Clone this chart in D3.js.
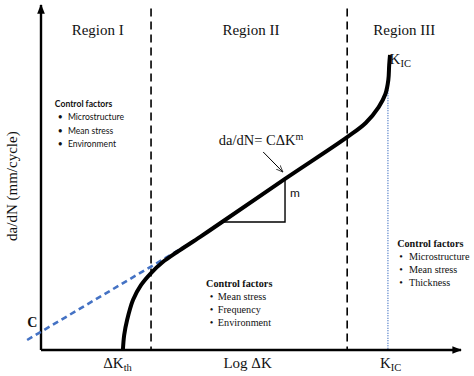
<!DOCTYPE html>
<html>
<head>
<meta charset="utf-8">
<script src="https://d3js.org/d3.v7.min.js"></script>
<style>
  body { margin: 0; background: #fff; }
  .serif { font-family: "Liberation Serif", "Times New Roman", serif; fill: #111; }
  .sans { font-family: Lato, "Open Sans", sans-serif; fill: #111; }
</style>
</head>
<body>
<svg id="chart" width="474" height="376"></svg>
<script>
// Crack growth curve, in abstract "log" units (0-100 on both axes)
const curveX = [19.5, 19.8, 20.5, 21.9, 23.8, 26.2, 29.0, 32.4, 37.9, 43.1, 58.1, 72.9, 77.3, 80.4, 82.0, 82.7, 82.9, 83.1];
const curveY = [0, 4.3, 8.7, 14.5, 18.8, 22.3, 25.5, 28.4, 32.8, 37.1, 49.6, 61.7, 65.8, 70.4, 74.2, 78.3, 82.6, 85.5];

// Paris-law tangent extended back to the y axis (C intercept)
const tangentX = [-3.3, 34.8];
const tangentY = [2.9, 30.4];

// slope triangle
const triX = [43.1, 58.1, 58.1];
const triY = [37.1, 37.1, 49.6];

const regionBounds = [26.2, 72.9];
const kic = 82.6;
const kicTop = 76;
const regionNames = ["Region I", "Region II", "Region III"];
const regionCenters = [13.5, 50, 86.5];

const factorTitles = ["Control factors", "Control factors", "Control factors"];
const factorLists = [
  ["Microstructure", "Mean stress", "Environment"],
  ["Mean stress", "Frequency", "Environment"],
  ["Microstructure", "Mean stress", "Thickness"]
];

const svg = d3.select("#chart");
const margin = { top: 5, right: 13, bottom: 26, left: 41 };
const width = 474, height = 376;

const x = d3.scaleLinear().domain([0, 100]).range([margin.left, width - margin.right]);
const y = d3.scaleLinear().domain([0, 100]).range([height - margin.bottom, margin.top]);

const defs = svg.append("defs");
defs.append("marker")
  .attr("id", "axisArrow")
  .attr("viewBox", "0 0 10 10")
  .attr("refX", 9).attr("refY", 5)
  .attr("markerWidth", 4).attr("markerHeight", 4)
  .attr("orient", "auto")
  .append("path").attr("d", "M0,1 L10,5 L0,9 Z").attr("fill", "#000");
defs.append("marker")
  .attr("id", "thinArrow")
  .attr("viewBox", "0 0 10 10")
  .attr("refX", 9).attr("refY", 5)
  .attr("markerWidth", 7).attr("markerHeight", 7)
  .attr("orient", "auto")
  .append("path").attr("d", "M0,1 L10,5 L0,9").attr("fill", "none").attr("stroke", "#000").attr("stroke-width", 1);

// region dividers
svg.selectAll("line.divider").data(regionBounds)
  .join("line")
  .attr("class", "divider")
  .attr("x1", d => x(d)).attr("x2", d => x(d))
  .attr("y1", y(99)).attr("y2", y(0))
  .attr("stroke", "#000")
  .attr("stroke-width", 1.6)
  .attr("stroke-dasharray", "8,5");

// dotted K_IC line
svg.append("line")
  .attr("x1", x(kic)).attr("x2", x(kic))
  .attr("y1", y(kicTop)).attr("y2", y(0))
  .attr("stroke", "#3a6cc0")
  .attr("stroke-width", 1.3)
  .attr("stroke-dasharray", "1,1.5");

// axes
svg.append("line")
  .attr("x1", x(0)).attr("y1", y(0))
  .attr("x2", x(0)).attr("y2", y(100))
  .attr("stroke", "#000").attr("stroke-width", 2.4)
  .attr("marker-end", "url(#axisArrow)");
svg.append("line")
  .attr("x1", x(0)).attr("y1", y(0))
  .attr("x2", x(100)).attr("y2", y(0))
  .attr("stroke", "#000").attr("stroke-width", 2.4)
  .attr("marker-end", "url(#axisArrow)");

// tangent line
svg.append("line")
  .attr("x1", x(tangentX[0])).attr("y1", y(tangentY[0]))
  .attr("x2", x(tangentX[1])).attr("y2", y(tangentY[1]))
  .attr("stroke", "#4472c4").attr("stroke-width", 2.6)
  .attr("stroke-dasharray", "6,4");

// slope triangle
svg.append("path")
  .attr("d", d3.line().x(d => x(d[0])).y(d => y(d[1]))(d3.zip(triX, triY)))
  .attr("fill", "none").attr("stroke", "#000").attr("stroke-width", 1.4);

// curve
const curvePts = d3.zip(curveX, curveY);
svg.append("path")
  .attr("d", d3.line().x(d => x(d[0])).y(d => y(d[1])).curve(d3.curveCatmullRom)(curvePts))
  .attr("fill", "none").attr("stroke", "#000").attr("stroke-width", 4)
  .attr("stroke-linecap", "butt");

// formula annotation arrow
svg.append("line")
  .attr("x1", x(52.9)).attr("y1", y(57.4))
  .attr("x2", x(57.5)).attr("y2", y(51.7))
  .attr("stroke", "#000").attr("stroke-width", 1)
  .attr("marker-end", "url(#thinArrow)");

const formula = svg.append("text").attr("class", "serif")
  .attr("x", x(52.4)).attr("y", y(59.5)).attr("font-size", 14.5)
  .attr("text-anchor", "middle");
formula.append("tspan").text("da/dN= C\u0394K");
formula.append("tspan").attr("dy", -5).attr("font-size", 10).text("m");

svg.append("text").attr("class", "sans")
  .attr("x", x(59.3)).attr("y", y(44.3)).attr("font-size", 12).text("m");

// region titles
svg.selectAll("text.region").data(regionNames)
  .join("text")
  .attr("class", "region serif")
  .attr("x", (d, i) => x(regionCenters[i]))
  .attr("y", y(91.2))
  .attr("text-anchor", "middle")
  .attr("font-size", 15)
  .text(d => d);

// K_IC at the top of curve
const kTop = svg.append("text").attr("class", "serif")
  .attr("x", x(83)).attr("y", y(82.8)).attr("font-size", 15);
kTop.append("tspan").text("K");
kTop.append("tspan").attr("dy", 3).attr("font-size", 10.5).text("IC");

// C label
svg.append("text").attr("class", "serif")
  .attr("x", x(-3.3)).attr("y", y(6.6)).attr("font-size", 14)
  .attr("font-weight", "bold").text("C");

// x axis labels
const labelY = y(-5.3);
const kth = svg.append("text").attr("class", "serif")
  .attr("x", x(14.8)).attr("y", labelY).attr("font-size", 15);
kth.append("tspan").text("\u0394K");
kth.append("tspan").attr("dy", 3).attr("font-size", 10.5).text("th");

svg.append("text").attr("class", "serif")
  .attr("x", x(49.2)).attr("y", labelY).attr("font-size", 15)
  .attr("text-anchor", "middle").text("Log \u0394K");

const kBot = svg.append("text").attr("class", "serif")
  .attr("x", x(80.7)).attr("y", labelY).attr("font-size", 15);
kBot.append("tspan").text("K");
kBot.append("tspan").attr("dy", 3).attr("font-size", 10.5).text("IC");

// y axis label
svg.append("text").attr("class", "serif")
  .attr("transform", "translate(17," + y(47.5) + ") rotate(-90)")
  .attr("text-anchor", "middle").attr("font-size", 15)
  .text("da/dN (mm/cycle)");

// control factor boxes
const boxPos = [
  { x: 3.3, y: 70.4, cls: "sans", size: 8.6, step: 13.2, bx: 4, tx: 6.4 },
  { x: 39.3, y: 18.3, cls: "serif", size: 10.2, step: 13, bx: 40.2, tx: 42.1 },
  { x: 84.8, y: 29.9, cls: "serif", size: 10.2, step: 13, bx: 85.3, tx: 87.6 }
];
boxPos.forEach((b, i) => {
  const g = svg.append("g");
  g.append("text").attr("class", b.cls)
    .attr("x", x(b.x)).attr("y", y(b.y))
    .attr("font-size", b.size).attr("font-weight", "bold")
    .text(factorTitles[i]);
  g.selectAll("text.bullet").data(factorLists[i])
    .join("text")
    .attr("class", "bullet " + b.cls)
    .attr("x", x(b.bx))
    .attr("y", (d, j) => y(b.y) + b.step * (j + 1))
    .attr("font-size", b.size)
    .text("\u2022");
  g.selectAll("text.item").data(factorLists[i])
    .join("text")
    .attr("class", "item " + b.cls)
    .attr("x", x(b.tx))
    .attr("y", (d, j) => y(b.y) + b.step * (j + 1))
    .attr("font-size", b.size)
    .text(d => d);
});
</script>
</body>
</html>
